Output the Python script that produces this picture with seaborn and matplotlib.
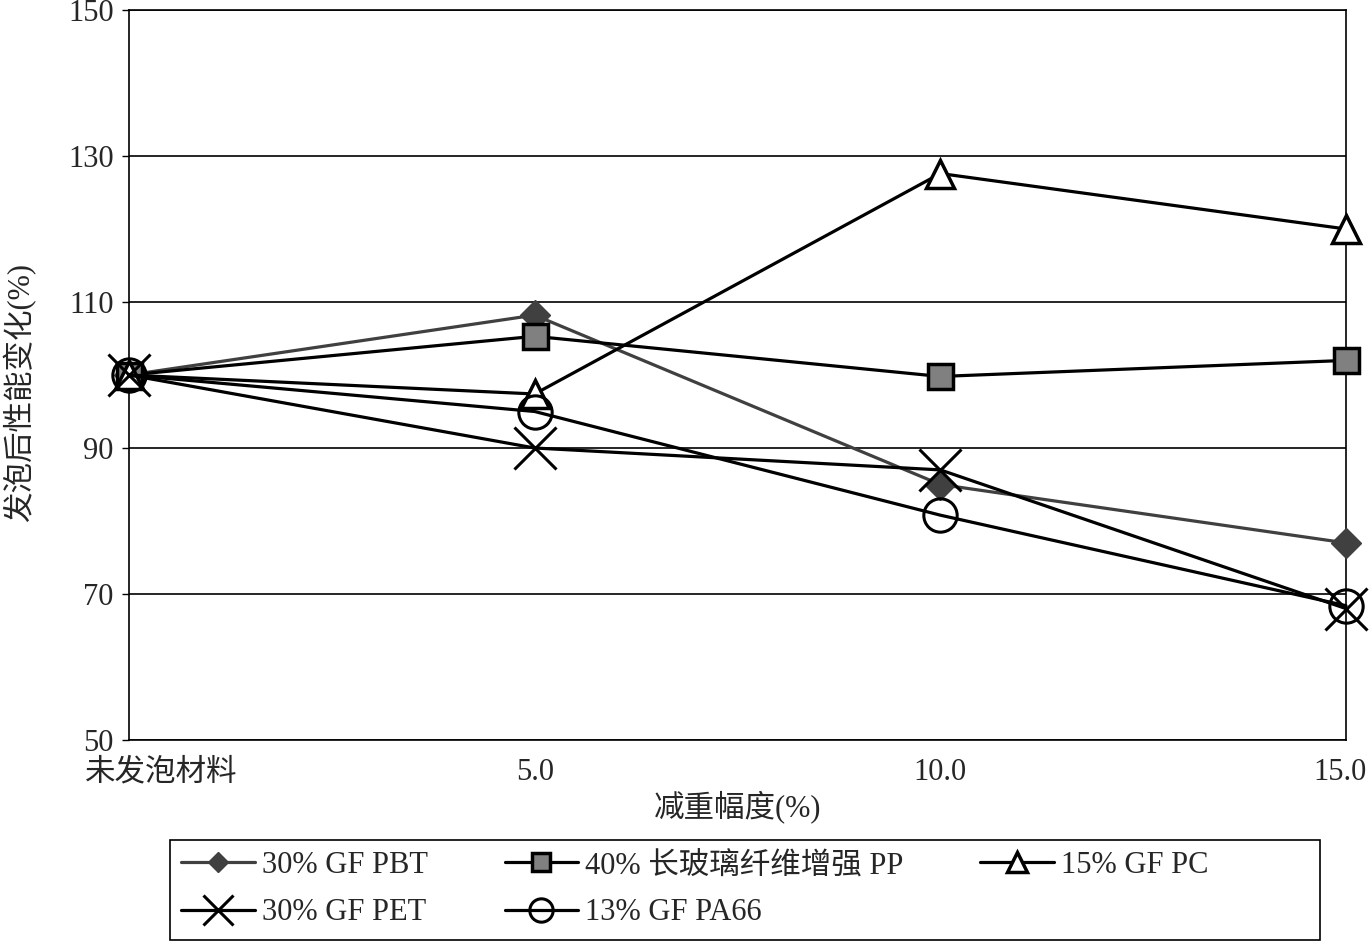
import matplotlib
matplotlib.use("Agg")
import matplotlib.pyplot as plt
import matplotlib.transforms as mtransforms
from matplotlib.patches import Rectangle
import seaborn as sns
import pandas as pd

categories = ["未发泡材料", "5.0", "10.0", "15.0"]
series_names = ["30% GF PBT", "40% 长玻璃纤维增强 PP", "15% GF PC", "30% GF PET", "13% GF PA66"]
pbt = [100, 108.2, 85.0, 77.0]
pp = [100, 105.3, 99.8, 102.0]
pc = [100, 97.4, 127.6, 120.0]
pet = [100, 90.0, 87.0, 68.0]
pa66 = [100, 95.0, 80.8, 68.4]
yticks = [50, 70, 90, 110, 130, 150]

sns.set_theme(style="white")
plt.rcParams['font.family'] = ['Liberation Serif', 'Noto Sans CJK SC']
plt.rcParams['axes.unicode_minus'] = False

fig = plt.figure(figsize=(13.69, 9.43), dpi=100)
ax = fig.add_axes([129/1369, 1-740/943, (1346-129)/1369, (740-10)/943])

xs = list(range(len(categories)))
styles = [
    (pbt, dict(color="#404040", marker="D", markersize=15, markerfacecolor="#404040", markeredgecolor="#404040", markeredgewidth=1)),
    (pp, dict(color="black", marker="s", markersize=18, markerfacecolor="#808080", markeredgecolor="black", markeredgewidth=2.5)),
    (pc, dict(color="black", marker="^", markersize=20, markerfacecolor="white", markeredgecolor="black", markeredgewidth=2.5)),
    (pet, dict(color="black", marker="x", markersize=30, markeredgecolor="black", markeredgewidth=2.2)),
    (pa66, dict(color="black", marker="o", markersize=24, markerfacecolor="none", markeredgecolor="black", markeredgewidth=2.2)),
]
for name, (vals, kw) in zip(series_names, styles):
    df = pd.DataFrame({"x": xs, "y": vals})
    sns.lineplot(data=df, x="x", y="y", ax=ax, label=name, linewidth=2.3, clip_on=False, zorder=3, **kw)

ax.set_xlim(0, 3)
ax.set_ylim(50, 150)
ax.set_yticks(yticks)
ax.set_xticks(xs)
ax.set_xticklabels(categories, fontsize=22)
ax.tick_params(axis="y", labelsize=22, length=5, width=1, color="black", direction="out", pad=6, left=True)
ax.tick_params(axis="x", length=0, pad=13)
tls = ax.get_xticklabels()
tls[0].set_ha("left")
tls[0].set_transform(tls[0].get_transform() + mtransforms.ScaledTranslation(-44/100, 0, fig.dpi_scale_trans))
tls[-1].set_ha("right")
tls[-1].set_transform(tls[-1].get_transform() + mtransforms.ScaledTranslation(21/100, 0, fig.dpi_scale_trans))
ax.yaxis.grid(True, color="black", linewidth=1.2)
ax.xaxis.grid(False)
for s in ax.spines.values():
    s.set_color("black")
    s.set_linewidth(1.2)
ax.set_xlabel("减重幅度(%)", fontsize=22, labelpad=2)
ax.set_ylabel("发泡后性能变化(%)", fontsize=22)
ax.yaxis.set_label_coords((36-129)/1217, (740-392)/730)

ax.get_legend().remove()
handles, labels = ax.get_legend_handles_labels()
order = [0, 3, 1, 4, 2]
leg = fig.legend([handles[i] for i in order], [labels[i] for i in order], loc="upper left",
                 bbox_to_anchor=(172/1369, 1-842/943), ncol=3, borderaxespad=0,
                 fontsize=22, frameon=False, markerscale=0.7,
                 handlelength=2.4, handletextpad=0.25, columnspacing=2.5, borderpad=0.3, labelspacing=0.6)
fig.patches.append(Rectangle((170/1369, 1-940/943), 1150/1369, 100/943, transform=fig.transFigure,
                             fill=False, edgecolor="black", linewidth=1.2))

fig.savefig("out.png", dpi=100)
